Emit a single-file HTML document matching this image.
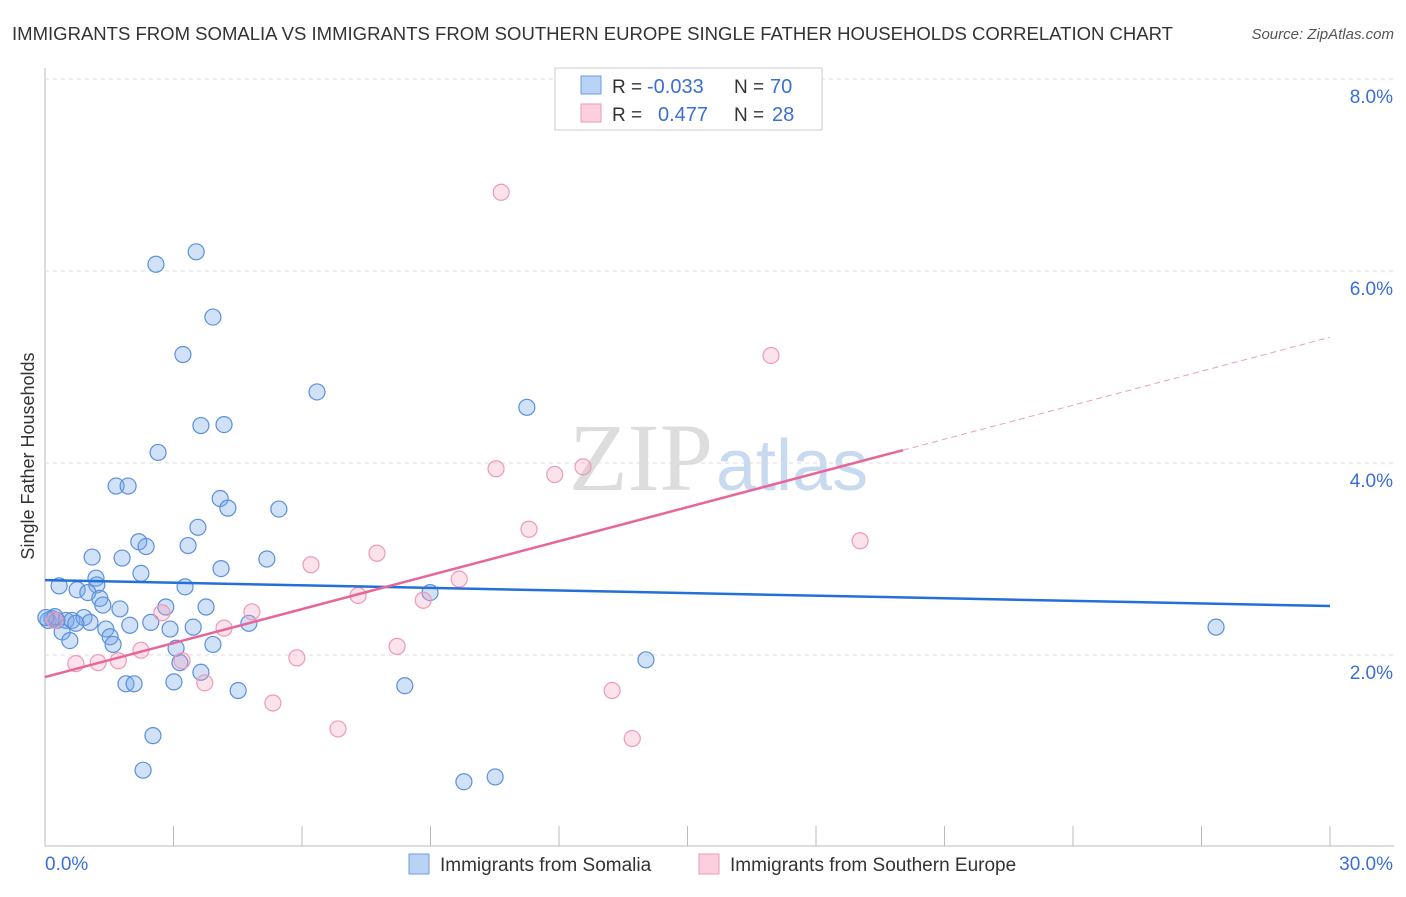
<!DOCTYPE html>
<html><head><meta charset="utf-8"><style>
body{margin:0;background:#fff;font-family:"Liberation Sans",sans-serif}
</style></head><body>
<svg id="c" width="1406" height="892" xmlns="http://www.w3.org/2000/svg" font-family="Liberation Sans, sans-serif">
<text x="12" y="40" font-size="18" fill="#333" textLength="1161" lengthAdjust="spacingAndGlyphs">IMMIGRANTS FROM SOMALIA VS IMMIGRANTS FROM SOUTHERN EUROPE SINGLE FATHER HOUSEHOLDS CORRELATION CHART</text>
<text x="1394" y="39" font-size="15" fill="#555" font-style="italic" text-anchor="end">Source: ZipAtlas.com</text>
<text x="713" y="490" font-size="96" fill="#ddd" font-family="Liberation Serif, serif" text-anchor="end">ZIP</text>
<text x="716" y="490" font-size="72" fill="#c8daf0">atlas</text>
<g id="grid"></g><g id="marks"></g>
<text transform="translate(34,456) rotate(-90)" font-size="18" fill="#333" text-anchor="middle">Single Father Households</text>
<g>
<rect x="555" y="68" width="267" height="62" fill="#fff" stroke="#ccc"/>
<rect x="581" y="76" width="20" height="18" fill="#b8d3f5" stroke="#6a9ee0"/>
<rect x="581" y="104" width="20" height="18" fill="#fbcfdd" stroke="#ef9ab5"/>
<text x="612" y="93" font-size="19" fill="#333">R =</text>
<text x="647" y="93" font-size="20" fill="#3a6fd8">-0.033</text>
<text x="734" y="93" font-size="19" fill="#333">N =</text>
<text x="770" y="93" font-size="20" fill="#3a6fd8">70</text>
<text x="612" y="121" font-size="19" fill="#333">R =</text>
<text x="658" y="121" font-size="20" fill="#3a6fd8">0.477</text>
<text x="734" y="121" font-size="19" fill="#333">N =</text>
<text x="772" y="121" font-size="20" fill="#3a6fd8">28</text>
</g>
<g>
<rect x="409" y="854" width="20" height="20" fill="#b8d3f5" stroke="#6a9ee0"/>
<text x="440" y="871" font-size="19" fill="#333">Immigrants from Somalia</text>
<rect x="699" y="854" width="20" height="20" fill="#fbcfdd" stroke="#ef9ab5"/>
<text x="730" y="871" font-size="19" fill="#333">Immigrants from Southern Europe</text>
</g>
</svg>
<script>
const xTicks=[0,3,6,9,12,15,18,21,24,27,30];
const yTicks=[2,4,6,8];
const yTickLabels=["2.0%","4.0%","6.0%","8.0%"];
const xTickLabels=["0.0%","30.0%"];
const blueX=[2.59,3.53,3.92,3.22,6.35,11.25,3.64,4.18,2.64,1.66,1.94,4.09,4.27,5.46,3.57,2.19,2.36,3.34,1.10,1.80,5.18,2.24,4.11,1.19,1.21,0.33,0.75,1.00,3.27,1.28,1.35,1.75,2.82,3.76,8.99,0.16,0.07,0.28,0.49,0.63,0.91,1.05,0.72,0.40,1.42,1.98,2.47,2.92,3.46,4.76,1.52,1.59,0.58,3.06,3.92,3.15,3.64,14.03,1.89,2.08,3.01,4.51,8.40,2.52,2.29,9.78,10.51,27.34,0.23,0.02];
const blueY=[6.07,6.2,5.52,5.13,4.74,4.58,4.39,4.4,4.11,3.76,3.76,3.63,3.53,3.52,3.33,3.18,3.13,3.14,3.02,3.01,3.0,2.85,2.9,2.8,2.73,2.72,2.68,2.65,2.71,2.59,2.52,2.48,2.5,2.5,2.65,2.38,2.36,2.36,2.36,2.36,2.39,2.34,2.33,2.24,2.27,2.31,2.34,2.27,2.29,2.33,2.19,2.11,2.15,2.07,2.11,1.92,1.82,1.95,1.7,1.7,1.72,1.63,1.68,1.16,0.8,0.68,0.73,2.29,2.4,2.39];
const pinkX=[10.65,16.95,10.53,11.9,12.56,11.3,19.03,7.75,6.21,9.67,7.31,8.83,4.83,2.73,0.23,4.18,2.24,8.22,5.88,3.2,0.72,1.24,1.71,3.73,5.32,13.24,6.84,13.71];
const pinkY=[6.82,5.12,3.94,3.88,3.96,3.31,3.19,3.06,2.94,2.79,2.62,2.57,2.45,2.44,2.36,2.28,2.05,2.09,1.97,1.94,1.91,1.92,1.94,1.71,1.5,1.63,1.23,1.13];
const blueTrend=[2.78,2.51];
const pinkTrend=[1.77,5.31];
const pinkSolidEnd=20.03;
const X=v=>45+v/30*1285, Y=v=>847-v*96;
const NS="http://www.w3.org/2000/svg";
const grid=document.getElementById('grid'), marks=document.getElementById('marks');
function mk(p,tag,a){const e=document.createElementNS(NS,tag);for(const k in a)e.setAttribute(k,a[k]);p.appendChild(e);return e;}
let ax=mk(grid,'line',{x1:45,y1:68,x2:45,y2:846,stroke:'#bbb'});


let bx=mk(grid,'line',{x1:45,y1:846,x2:1394,y2:846,stroke:'#bbb'});


yTicks.forEach((t,i)=>{
 let g=mk(grid,'line',{x1:45,x2:1394,y1:Y(t),y2:Y(t),stroke:'#ddd','stroke-dasharray':'4,4'});
 
 
 let l=mk(grid,'text',{x:1393,y:Y(t)+24,'font-size':19,fill:'#3a6fd8','text-anchor':'end'});
 l.textContent=yTickLabels[i];
 
 
});
xTicks.forEach(t=>{
 let g=mk(grid,'line',{x1:X(t),x2:X(t),y1:826,y2:846,stroke:'#bbb'});
 
 
});
[[0,'start',45],[30,'end',1393]].forEach((d,i)=>{
 let l=mk(grid,'text',{x:d[2],y:870,'font-size':19,fill:'#3a6fd8','text-anchor':d[1]});
 l.textContent=xTickLabels[i];
 
 
});
blueX.forEach((v,i)=>{
 let c=mk(marks,'circle',{cx:X(v),cy:Y(blueY[i]),r:8,fill:'rgba(120,170,235,0.35)',stroke:'#5a90dc','stroke-width':1.2});
 
 
});
pinkX.forEach((v,i)=>{
 let c=mk(marks,'circle',{cx:X(v),cy:Y(pinkY[i]),r:8,fill:'rgba(245,160,190,0.3)',stroke:'#ee9ab5','stroke-width':1.2});
 
 
});
let bl=mk(marks,'line',{x1:X(0),y1:Y(blueTrend[0]),x2:X(30),y2:Y(blueTrend[1]),stroke:'#2270d8','stroke-width':2.5});


const pAt=x=>pinkTrend[0]+(pinkTrend[1]-pinkTrend[0])*x/30;
let pl=mk(marks,'line',{x1:X(0),y1:Y(pAt(0)),x2:X(pinkSolidEnd),y2:Y(pAt(pinkSolidEnd)),stroke:'#e8659a','stroke-width':2.5});


let pd=mk(marks,'line',{x1:X(pinkSolidEnd),y1:Y(pAt(pinkSolidEnd)),x2:X(30),y2:Y(pAt(30)),stroke:'#e8a0bb','stroke-width':1,'stroke-dasharray':'6,4'});


</script>
</body></html>
